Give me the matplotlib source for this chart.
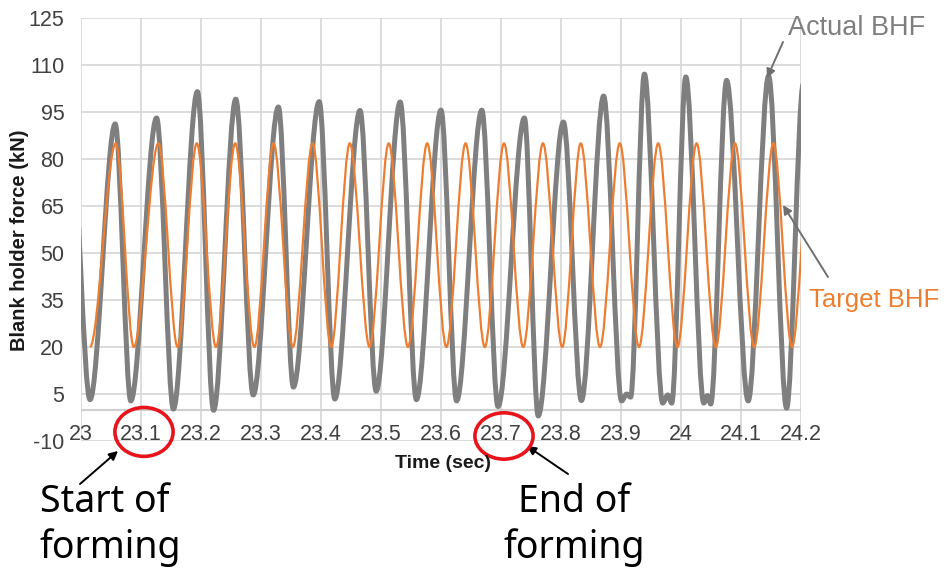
import matplotlib
matplotlib.use("Agg")
import matplotlib.pyplot as plt
from matplotlib.path import Path
from matplotlib.patches import PathPatch, Ellipse

# ---------- data ----------
# actual BHF: turning points of the measured signal (time s, force kN)
actual_t = [22.984, 23.015, 23.057, 23.083, 23.126, 23.154, 23.194, 23.221, 23.258, 23.287,
            23.329, 23.354, 23.397, 23.423, 23.465, 23.492, 23.532, 23.559, 23.600, 23.626,
            23.668, 23.695, 23.739, 23.762, 23.804, 23.834, 23.871,
            23.901, 23.9095, 23.916, 23.939,
            23.9695, 23.978, 23.9845, 24.008,
            24.038, 24.044, 24.0495, 24.076, 24.112, 24.146, 24.176, 24.204]
actual_v = [86, 3.2, 91.2, 2.8, 93.1, 0.2, 101.5, -0.2, 99.1, 4.7,
            96.6, 7.2, 98.3, 3.4, 95.5, 5.9, 98.2, 3.2, 95.6, 2.8,
            95.6, 1.0, 93.1, -2.0, 91.8, 2.9, 100.1,
            2.8, 5.0, 4.0, 107.1,
            2.1, 4.7, 2.1, 106.2,
            2.1, 4.5, 1.8, 105.1, 2.8, 106.5, 0.5, 104]

# target BHF: turning points of the commanded signal
target_t = [23.015, 23.058, 23.088, 23.129, 23.161, 23.193, 23.225, 23.257, 23.289, 23.321,
            23.353, 23.386, 23.417, 23.448, 23.481, 23.513, 23.545, 23.577, 23.609, 23.641,
            23.673, 23.705, 23.737, 23.770, 23.802, 23.833, 23.865, 23.898, 23.930, 23.962,
            23.994, 24.026, 24.058, 24.090, 24.122, 24.154, 24.185, 24.217]
target_v = [20, 85] * 19

x_ticks = [23.0, 23.1, 23.2, 23.3, 23.4, 23.5, 23.6, 23.7, 23.8, 23.9, 24.0, 24.1, 24.2]
x_labels = ["23", "23.1", "23.2", "23.3", "23.4", "23.5", "23.6", "23.7",
            "23.8", "23.9", "24", "24.1", "24.2"]
y_ticks = [-10, 5, 20, 35, 50, 65, 80, 95, 110, 125]
marked_ticks = [23.1, 23.7]

GRAY = "#7f7f7f"
ORANGE = "#ed7d31"
GRID = "#d9d9d9"
NARROW = ["Liberation Sans Narrow", "Liberation Sans", "DejaVu Sans"]
W, H = 948, 573


def fx(px):
    return px / W


def fy(py):
    return 1 - py / H


def smooth_path(t, v):
    # smoothed line through the turning points (like a spreadsheet "smooth line")
    verts = [(t[0], v[0])]
    codes = [Path.MOVETO]
    for i in range(1, len(t)):
        d = (t[i] - t[i - 1]) / 3
        verts += [(t[i - 1] + d, v[i - 1]), (t[i] - d, v[i]), (t[i], v[i])]
        codes += [Path.CURVE4] * 3
    return Path(verts, codes)


fig = plt.figure(figsize=(W / 100, H / 100), dpi=100)
ax = fig.add_axes([fx(81), fy(441), 720 / W, 423 / H])
ax.set_xlim(23.0, 24.2)
ax.set_ylim(-10, 125)
for s in ax.spines.values():
    s.set_visible(False)

ax.set_xticks(x_ticks)
ax.set_xticklabels([])
ax.set_yticks(y_ticks)
ax.set_yticklabels([str(v) for v in y_ticks], family=NARROW, fontsize=15.5, color="#404040")
ax.tick_params(length=0, pad=12)
ax.grid(True, color=GRID, lw=1.3, zorder=0)
ax.set_axisbelow(True)
ax.axhline(0, color="#cfcfcf", lw=1.5, zorder=1)

for xt, lab in zip(x_ticks, x_labels):
    ax.text(xt, -7.8, lab, ha="center", va="center", family=NARROW, fontsize=15.5,
            color="#404040")

ax.add_patch(PathPatch(smooth_path(actual_t, actual_v), fill=False, ec=GRAY, lw=3.6,
                       joinstyle="round", capstyle="round", zorder=3))
ax.add_patch(PathPatch(smooth_path(target_t, target_v), fill=False, ec=ORANGE, lw=1.6,
                       zorder=4))

# red circles around forming start / end ticks
for xm, ym, hh in zip(marked_ticks, [-7.1, -8.4], [15.6, 14.8]):
    ax.add_patch(Ellipse((xm + 0.005, ym), 0.097, hh, fill=False, ec="#e8141c", lw=2.6,
                         clip_on=False, zorder=5))

fig.text(fx(20), fy(240), "Blank holder force (kN)", rotation=90, ha="center", va="center",
         family=NARROW, fontsize=14.5, fontweight="bold", color="#1a1a1a")
fig.text(fx(443), fy(463), "Time (sec)", ha="center", va="center",
         family=NARROW, fontsize=14, fontweight="bold", color="#1a1a1a")

# series callouts
fig.text(fx(788), fy(28), "Actual BHF", ha="left", va="center", family=NARROW,
         fontsize=19.5, color=GRAY)
fig.text(fx(809), fy(300), "Target BHF", ha="left", va="center", family=NARROW,
         fontsize=18.5, color=ORANGE)
arrow = dict(arrowstyle="-|>", color="#6f6f6f", lw=1.4, mutation_scale=13, shrinkA=0, shrinkB=0)
ax.annotate("", xy=(fx(767), fy(78)), xytext=(fx(783), fy(42)),
            xycoords="figure fraction", textcoords="figure fraction", arrowprops=arrow)
ax.annotate("", xy=(fx(783), fy(205)), xytext=(fx(828), fy(277)),
            xycoords="figure fraction", textcoords="figure fraction", arrowprops=arrow)

# forming annotations below the chart
fig.text(fx(40), fy(525), "Start of\nforming", ha="left", va="center", family=["Noto Sans"],
         fontsize=27, linespacing=1.25, color="black")
fig.text(fx(574), fy(525), "End of\nforming", ha="center", va="center", family=["Noto Sans"],
         fontsize=27, linespacing=1.25, color="black")
black = dict(arrowstyle="-|>", color="black", lw=1.4, mutation_scale=13, shrinkA=0, shrinkB=0)
ax.annotate("", xy=(fx(118), fy(451)), xytext=(fx(80), fy(484)),
            xycoords="figure fraction", textcoords="figure fraction", arrowprops=black)
ax.annotate("", xy=(fx(527), fy(446)), xytext=(fx(568), fy(474)),
            xycoords="figure fraction", textcoords="figure fraction", arrowprops=black)

fig.savefig("out.png", dpi=100)
